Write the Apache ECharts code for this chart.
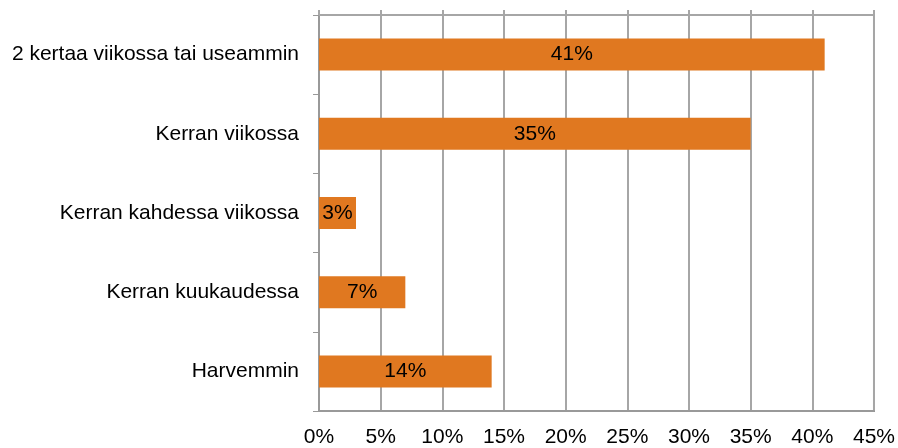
<!DOCTYPE html>
<html>
<head>
<meta charset="utf-8">
<script src="https://cdn.jsdelivr.net/npm/echarts@6/dist/echarts.min.js"></script>
<style>
  html, body { margin: 0; padding: 0; background: #fff; }
  #chart { width: 898px; height: 448px; }
</style>
</head>
<body>
<div id="chart"></div>
<script>
const categories = [
    '2 kertaa viikossa tai useammin',
    'Kerran viikossa',
    'Kerran kahdessa viikossa',
    'Kerran kuukaudessa',
    'Harvemmin'
];
const values = [41, 35, 3, 7, 14];
const xMin = 0;
const xMax = 45;
const xStep = 5;

const chart = echarts.init(document.getElementById('chart'), null, { renderer: 'canvas' });

const font = 'Liberation Sans, Arial, sans-serif';

chart.setOption({
    animation: false,
    grid: {
        left: 319, right: 22, top: 15, bottom: 35,
        show: true, borderColor: '#8a8a8a', borderWidth: 2
    },
    xAxis: [{
        type: 'value',
        position: 'bottom',
        min: xMin, max: xMax, interval: xStep,
        axisLine: { show: true, lineStyle: { color: '#999', width: 2 } },
        axisTick: { show: false },
        splitLine: { show: true, lineStyle: { color: '#a6a6a6', width: 2 } },
        axisLabel: {
            formatter: '{value}%', color: '#000', fontSize: 21,
            fontFamily: font, margin: 16
        }
    }, {
        type: 'value',
        position: 'top',
        min: xMin, max: xMax, interval: xStep,
        axisLine: { show: true, lineStyle: { color: '#a6a6a6', width: 2 } },
        axisTick: { show: true, length: 5, lineStyle: { color: '#a6a6a6', width: 2 } },
        splitLine: { show: false },
        axisLabel: { show: false }
    }],
    yAxis: {
        type: 'category',
        data: categories,
        inverse: true,
        axisLine: { show: true, lineStyle: { color: '#999', width: 2 } },
        axisTick: { show: true, length: 6, lineStyle: { color: '#999', width: 1 } },
        axisLabel: { color: '#000', fontSize: 21, fontFamily: font, margin: 20 }
    },
    series: [{
        type: 'bar',
        data: values,
        barWidth: 32,
        itemStyle: { color: '#E07820' },
        label: {
            show: true,
            position: 'inside',
            formatter: '{c}%',
            color: '#000',
            fontSize: 21,
            fontFamily: font
        }
    }]
});
</script>
</body>
</html>
